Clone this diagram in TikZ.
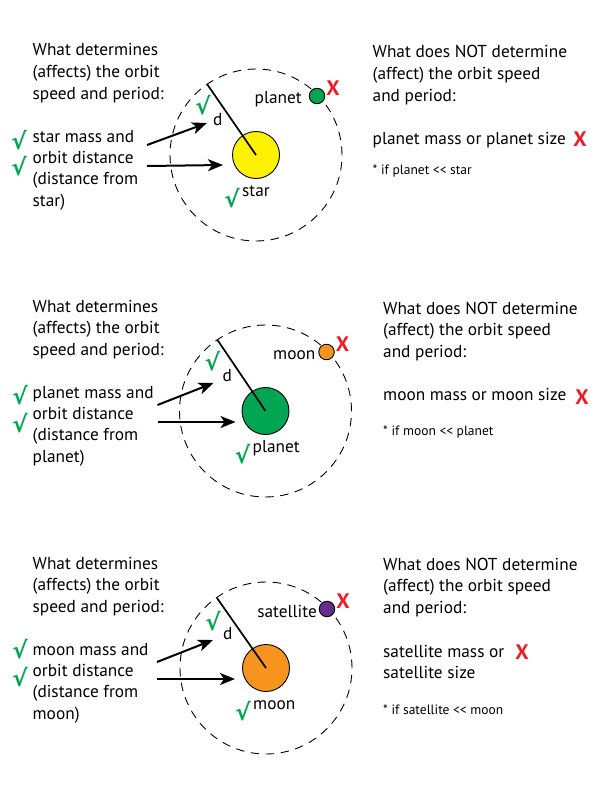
\documentclass[tikz,border=0pt]{standalone}
\usepackage{fontspec}
\setmainfont{PT Sans}
\newfontfamily\chkfont{DejaVu Sans}
\usetikzlibrary{arrows.meta}
\definecolor{chkgreen}{RGB}{0,166,81}
\definecolor{xred}{RGB}{237,28,36}
\definecolor{staryellow}{RGB}{255,242,0}
\definecolor{planetgreen}{RGB}{0,166,81}
\definecolor{moonorange}{RGB}{247,148,29}
\definecolor{satpurple}{RGB}{102,45,145}
\tikzset{
  txt/.style={anchor=base west, inner sep=0pt, font=\fontsize{17.3}{20}\selectfont},
  txtr/.style={anchor=base east, inner sep=0pt, font=\fontsize{17.3}{20}\selectfont},
  smalltxt/.style={anchor=base west, inner sep=0pt, font=\fontsize{13.5}{15}\selectfont},
  chk/.style={inner sep=0pt, text=chkgreen, font=\chkfont\bfseries\fontsize{23}{23}\selectfont},
  xmark/.style={inner sep=0pt, text=xred, font=\bfseries\fontsize{21}{21}\selectfont},
  orbit/.style={draw=black, line width=0.9pt, dash pattern=on 8.5pt off 6.5pt},
  bigbody/.style={circle, draw=black, line width=0.9pt, minimum size=47pt, inner sep=0pt},
  smallbody/.style={circle, draw=black, line width=0.9pt, minimum size=15.5pt, inner sep=0pt},
  dline/.style={draw=black, line width=1.7pt},
  arr/.style={draw=black, line width=2pt, -{Stealth[length=15pt, width=12pt, inset=4pt]}},
}
\begin{document}
\begin{tikzpicture}[x=1pt, y=-1pt]
\useasboundingbox (0,0) rectangle (612,792);
\fill[white] (0,0) rectangle (612,792);

% ================= Panel 1 =================
\node[txt] (p1l1) at (32.5,56) {What determines};
\node[txt] (p1l2) at (32.5,77.5) {(affects) the orbit};
\node[txt] (p1l3) at (32.5,99) {speed and period:};
\node[txt] (p1l4) at (32.5,142) {star mass and};
\node[txt] (p1l5) at (32.5,163) {orbit distance};
\node[txt] (p1l6) at (32.5,184.5) {(distance from};
\node[txt] (p1l7) at (32.5,206) {star)};
\node[chk] (p1c1) at (19,140) {√};
\node[chk] (p1c2) at (19,166) {√};

\node[txt] (p1r1) at (372.5,58) {What does NOT determine};
\node[txt] (p1r2) at (372.5,79.5) {(affect) the orbit speed};
\node[txt] (p1r3) at (372.5,101) {and period:};
\node[txt] (p1r4) at (372.5,144) {planet mass or planet size};
\node[xmark] (p1rx) at (580,139) {X};
\node[smalltxt] (p1r5) at (372.5,174) {* if planet <{}< star};

\begin{scope}[shift={(256,155)}]
  \draw[orbit] (0,0) circle[radius=86pt];
  \node[bigbody, fill=staryellow] (star1) at (0,0) {};
  \coordinate (d1) at (-49,-71);
  \draw[dline] (d1) -- (star1.center);
  \node[txt] (d1l) at (-43,-30) {d};
  \node[chk] (d1c) at (-53,-50) {√};
  \coordinate (a1s) at (-109,-10);
  \coordinate (a1e) at (-49,-32);
  \coordinate (a2s) at (-109,11);
  \coordinate (a2e) at (-33,10);
  \draw[arr] (a1s) -- (a1e);
  \draw[arr] (a2s) -- (a2e);
  \node[txt] (star1l) at (-14,41) {star};
  \node[chk] (star1c) at (-24,43) {√};
  \node[smallbody, fill=planetgreen] (planet1) at (61,-59) {};
  \node[txtr] (planet1l) at (46,-52) {planet};
  \node[xmark] (planet1x) at (77,-67) {X};
\end{scope}

% ================= Panel 2 =================
\node[txt] (p2l1) at (32.5,312) {What determines};
\node[txt] (p2l2) at (32.5,333.5) {(affects) the orbit};
\node[txt] (p2l3) at (32.5,355) {speed and period:};
\node[txt] (p2l4) at (32.5,398) {planet mass and};
\node[txt] (p2l5) at (32.5,419) {orbit distance};
\node[txt] (p2l6) at (32.5,440.5) {(distance from};
\node[txt] (p2l7) at (32.5,462) {planet)};
\node[chk] (p2c1) at (20,395) {√};
\node[chk] (p2c2) at (20,423) {√};

\node[txt] (p2r1) at (383,314) {What does NOT determine};
\node[txt] (p2r2) at (383,335.5) {(affect) the orbit speed};
\node[txt] (p2r3) at (383,357) {and period:};
\node[txt] (p2r4) at (383,400) {moon mass or moon size};
\node[xmark] (p2rx) at (582,397) {X};
\node[smalltxt] (p2r5) at (383,435) {* if moon <{}< planet};

\begin{scope}[shift={(265.5,411)}]
  \draw[orbit] (0,0) circle[radius=86pt];
  \node[bigbody, fill=planetgreen] (planet2) at (0,0) {};
  \coordinate (d2) at (-48,-71);
  \draw[dline] (d2) -- (planet2.center);
  \node[txt] (d2l) at (-43,-30) {d};
  \node[chk] (d2c) at (-53,-50) {√};
  \coordinate (b1s) at (-108,-6);
  \coordinate (b1e) at (-52,-28);
  \coordinate (b2s) at (-108,11);
  \coordinate (b2e) at (-30,11);
  \draw[arr] (b1s) -- (b1e);
  \draw[arr] (b2s) -- (b2e);
  \node[txt] (planet2l) at (-13,41) {planet};
  \node[chk] (planet2c) at (-23,43) {√};
  \node[smallbody, fill=moonorange] (moon2) at (61,-59) {};
  \node[txtr] (moon2l) at (50,-52) {moon};
  \node[xmark] (moon2x) at (77,-67) {X};
\end{scope}

% ================= Panel 3 =================
\node[txt] (p3l1) at (32.5,569) {What determines};
\node[txt] (p3l2) at (32.5,590.5) {(affects) the orbit};
\node[txt] (p3l3) at (32.5,612) {speed and period:};
\node[txt] (p3l4) at (32.5,655) {moon mass and};
\node[txt] (p3l5) at (32.5,676) {orbit distance};
\node[txt] (p3l6) at (32.5,697.5) {(distance from};
\node[txt] (p3l7) at (32.5,719) {moon)};
\node[chk] (p3c1) at (20,649) {√};
\node[chk] (p3c2) at (20,677) {√};

\node[txt] (p3r1) at (383,570) {What does NOT determine};
\node[txt] (p3r2) at (383,591.5) {(affect) the orbit speed};
\node[txt] (p3r3) at (383,613) {and period:};
\node[txt] (p3r4) at (383,657) {satellite mass or};
\node[txt] (p3r5) at (383,678) {satellite size};
\node[xmark] (p3rx) at (522,652) {X};
\node[smalltxt] (p3r6) at (383,714) {* if satellite <{}< moon};

\begin{scope}[shift={(266,668)}]
  \draw[orbit] (0,0) circle[radius=86pt];
  \node[bigbody, fill=moonorange] (moon3) at (0,0) {};
  \coordinate (d3) at (-49,-70);
  \draw[dline] (d3) -- (moon3.center);
  \node[txt] (d3l) at (-43,-29) {d};
  \node[chk] (d3c) at (-53,-47) {√};
  \coordinate (c1s) at (-109,-6);
  \coordinate (c1e) at (-53,-28);
  \coordinate (c2s) at (-109,11);
  \coordinate (c2e) at (-31,11);
  \draw[arr] (c1s) -- (c1e);
  \draw[arr] (c2s) -- (c2e);
  \node[txt] (moon3l) at (-13,41) {moon};
  \node[chk] (moon3c) at (-23,43) {√};
  \node[smallbody, fill=satpurple] (sat3) at (61,-59) {};
  \node[txtr] (sat3l) at (51,-51) {satellite};
  \node[xmark] (sat3x) at (77,-67) {X};
\end{scope}
\end{tikzpicture}
\end{document}
